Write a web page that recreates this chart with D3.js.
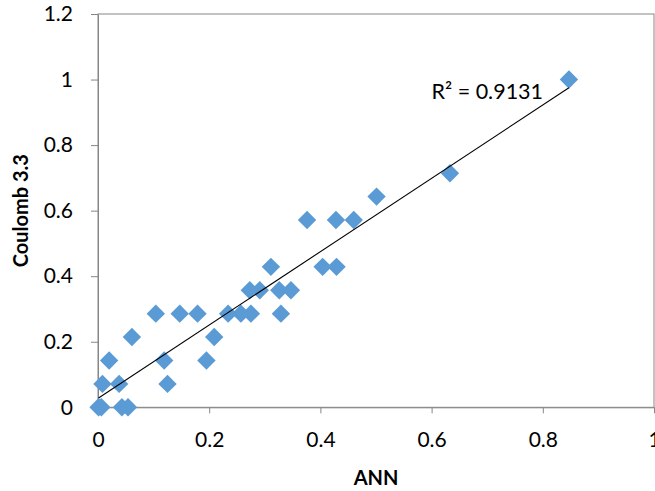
<!DOCTYPE html>
<html>
  <head>
    <meta charset="utf-8">
    <title></title>
  </head>
  <style>
    body{
      margin: 0;
      background-color: #fff;
      font-family: "Lato";
    }
    svg { display: block }
    .axis path, .axis line { stroke: #868686 }
    .axis text { fill: #000; font-size: 21px; font-family: "Lato" }
  </style>
  <script src="https://d3js.org/d3.v7.min.js"></script>
  <body>
    <script>
    // ANN vs Coulomb 3.3
    const annX = [0.001, 0.006, 0.043, 0.054,
                  0.008, 0.038, 0.125,
                  0.020, 0.119, 0.195,
                  0.061, 0.209,
                  0.104, 0.147, 0.179, 0.234, 0.257, 0.275, 0.329,
                  0.273, 0.291, 0.326, 0.347,
                  0.311, 0.404, 0.429,
                  0.376, 0.428, 0.460,
                  0.501, 0.633, 0.847]
    const coulombY = [0, 0, 0, 0,
                      0.0714, 0.0714, 0.0714,
                      0.1429, 0.1429, 0.1429,
                      0.2143, 0.2143,
                      0.2857, 0.2857, 0.2857, 0.2857, 0.2857, 0.2857, 0.2857,
                      0.3571, 0.3571, 0.3571, 0.3571,
                      0.4286, 0.4286, 0.4286,
                      0.5714, 0.5714, 0.5714,
                      0.6429, 0.7143, 1.0]
    const xTicks = [0, 0.2, 0.4, 0.6, 0.8, 1]
    const yTicks = [0, 0.2, 0.4, 0.6, 0.8, 1, 1.2]
    const r2Label = "R² = 0.9131"

    var W = 655, H = 491
    var padding = { left: 98, top: 14, right: 1, bottom: 83.7 }
    var width = W - padding.left - padding.right
    var height = H - padding.top - padding.bottom

    var svg = d3.select("body").append("svg")
                .attr("width", W)
                .attr("height", H)

    var xScale = d3.scaleLinear().domain([0, 1]).range([padding.left, padding.left + width])
    var yScale = d3.scaleLinear().domain([0, 1.2]).range([padding.top + height, padding.top])

    // plot area border
    svg.append("rect")
       .attr("x", xScale(0)).attr("y", yScale(1.2))
       .attr("width", width).attr("height", height)
       .attr("fill", "none")
       .attr("stroke", "#868686")

    var fmt = d3.format("~g")

    svg.append("g")
       .attr("class", "axis")
       .attr("transform", "translate(0," + yScale(0) + ")")
       .call(d3.axisBottom(xScale).tickValues(xTicks).tickFormat(fmt)
               .tickSize(6).tickSizeOuter(0).tickPadding(19))

    svg.append("g")
       .attr("class", "axis")
       .attr("transform", "translate(" + xScale(0) + ",0)")
       .call(d3.axisLeft(yScale).tickValues(yTicks).tickFormat(fmt)
               .tickSize(7).tickSizeOuter(0).tickPadding(18))

    // points
    var pts = annX.map(function(x, i){ return [x, coulombY[i]] })
    var s = 9.2
    svg.append("g").selectAll("path")
       .data(pts)
       .enter()
       .append("path")
       .attr("d", "M0," + (-s) + "L" + s + ",0L0," + s + "L" + (-s) + ",0Z")
       .attr("transform", function(d){ return "translate(" + xScale(d[0]) + "," + yScale(d[1]) + ")" })
       .attr("fill", "#5B9BD5")

    // linear trendline (least squares)
    var mx = d3.mean(annX), my = d3.mean(coulombY)
    var sxy = d3.sum(pts, function(d){ return (d[0] - mx) * (d[1] - my) })
    var sxx = d3.sum(pts, function(d){ return (d[0] - mx) * (d[0] - mx) })
    var slope = sxy / sxx, icpt = my - slope * mx
    var x0 = d3.min(annX), x1 = d3.max(annX)
    svg.append("line")
       .attr("x1", xScale(x0)).attr("y1", yScale(icpt + slope * x0))
       .attr("x2", xScale(x1)).attr("y2", yScale(icpt + slope * x1))
       .attr("stroke", "#000")
       .attr("stroke-width", 1.1)

    svg.append("text")
       .attr("x", 431.5).attr("y", 98.5)
       .attr("font-size", "21.5px")
       .attr("fill", "#000")
       .text(r2Label)

    // axis titles
    svg.append("text")
       .attr("x", xScale(0.5)).attr("y", 485)
       .attr("text-anchor", "middle")
       .attr("font-size", "20px").attr("font-weight", "bold")
       .text("ANN")

    svg.append("text")
       .attr("transform", "translate(28," + yScale(0.6) + ") rotate(-90)")
       .attr("text-anchor", "middle")
       .attr("font-size", "20px").attr("font-weight", "bold")
       .text("Coulomb 3.3")
    </script>
  </body>
</html>
